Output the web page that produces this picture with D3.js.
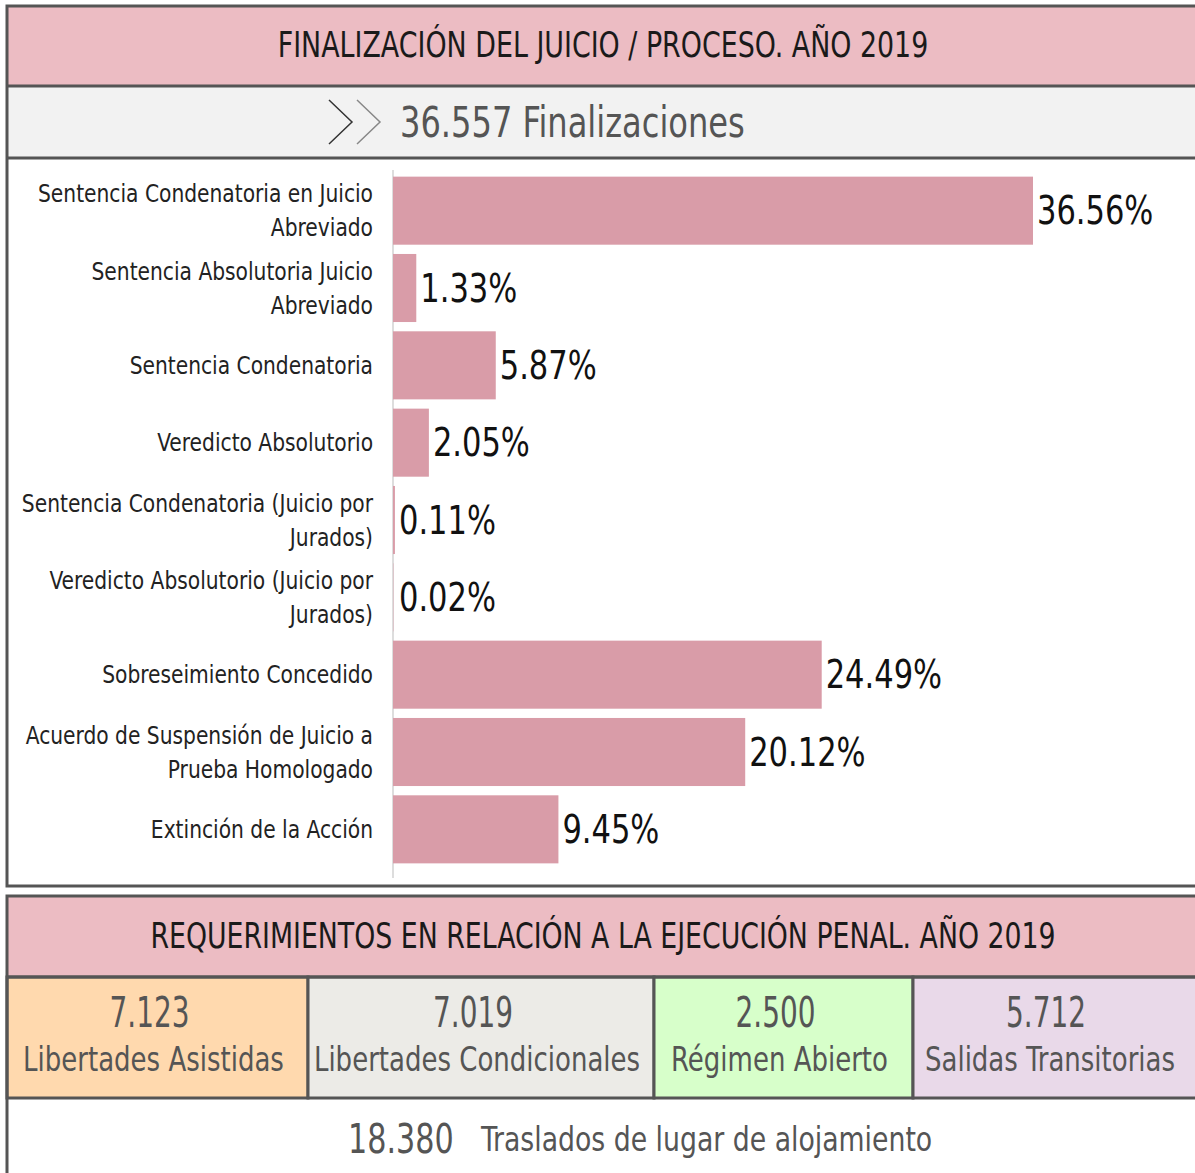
<!DOCTYPE html>
<html>
<head>
<meta charset="utf-8">
<script src="https://cdn.jsdelivr.net/npm/d3@7"></script>
<style>
body{margin:0;background:#fff;}
text{font-family:"DejaVu Sans Condensed","DejaVu Sans",sans-serif;}
</style>
</head>
<body>
<div id="chart"></div>
<script>
// data
var title1="FINALIZACIÓN DEL JUICIO / PROCESO. AÑO 2019";
var totalFin=36557;
var totalLabel="Finalizaciones";
var categories=[
	["Sentencia Condenatoria en Juicio","Abreviado"],
	["Sentencia Absolutoria Juicio","Abreviado"],
	["Sentencia Condenatoria"],
	["Veredicto Absolutorio"],
	["Sentencia Condenatoria (Juicio por","Jurados)"],
	["Veredicto Absolutorio (Juicio por","Jurados)"],
	["Sobreseimiento Concedido"],
	["Acuerdo de Suspensión de Juicio a","Prueba Homologado"],
	["Extinción de la Acción"]
];
var values=[36.56,1.33,5.87,2.05,0.11,0.02,24.49,20.12,9.45];
var title2="REQUERIMIENTOS EN RELACIÓN A LA EJECUCIÓN PENAL. AÑO 2019";
var execLabels=["Libertades Asistidas","Libertades Condicionales","Régimen Abierto","Salidas Transitorias"];
var execValues=[7123,7019,2500,5712];
var execColors=["#ffd9ae","#ecebe7","#d7ffca","#e9d9e9"];
var trasladosValue=18380;
var trasladosLabel="Traslados de lugar de alojamiento";

var W=1195,H=1173;
var es=d3.formatLocale({decimal:",",thousands:".",grouping:[3],currency:["$",""]});
var fmtN=es.format(",d");
var border="#555";
var svg=d3.select("#chart").append("svg").attr("width",W).attr("height",H);

// text squeezed horizontally to look like the narrow font of the original
function addText(x,y,str,size,sx,anchor,fill){
	return svg.append("g").attr("transform","translate("+x+","+y+") scale("+sx+",1)")
		.append("text").attr("dy","0.35em").attr("text-anchor",anchor||"start")
		.attr("font-size",size).attr("fill",fill).text(str);
}

// ---- top box
var L=7,R=1200;
svg.append("rect").attr("x",L).attr("y",6).attr("width",R-L).attr("height",80).attr("fill","#ecbcc3");
svg.append("rect").attr("x",L).attr("y",86).attr("width",R-L).attr("height",72).attr("fill","#f2f2f2");
svg.append("rect").attr("x",L).attr("y",158).attr("width",R-L).attr("height",728).attr("fill","#fff");
svg.append("rect").attr("x",L).attr("y",6).attr("width",R-L).attr("height",880).attr("fill","none").attr("stroke",border).attr("stroke-width",3);
[86,158].forEach(function(y){
	svg.append("line").attr("x1",L).attr("x2",R).attr("y1",y).attr("y2",y).attr("stroke",border).attr("stroke-width",3);
});
addText(603,45,title1,35,0.854,"middle","#1a1a1a");
// chevrons
var chev=svg.append("g").attr("fill","none").attr("stroke-width",1.5);
chev.append("path").attr("d","M329,100 L352,122 L329,144").attr("stroke","#333");
chev.append("path").attr("d","M357,100 L380,122 L357,144").attr("stroke","#888");
addText(400,122,fmtN(totalFin)+" "+totalLabel,42,0.85,"start","#555");

// bars
var x0=393;
var x=d3.scaleLinear().domain([0,36.56]).range([x0,1033]);
var y=d3.scaleBand().domain(d3.range(values.length)).range([172,868]).paddingInner(0.12).paddingOuter(0.06);
svg.append("line").attr("x1",x0).attr("x2",x0).attr("y1",170).attr("y2",878).attr("stroke","#ddd").attr("stroke-width",2);
svg.selectAll("rect.bar").data(values).enter().append("rect").attr("class","bar")
	.attr("x",x0).attr("y",function(d,i){return y(i);})
	.attr("width",function(d){return x(d)-x0;}).attr("height",y.bandwidth())
	.attr("fill","#d99ca8");
values.forEach(function(d,i){
	addText(Math.max(x(d),x0+2)+4,y(i)+y.bandwidth()/2,d.toFixed(2)+"%",39,0.87,"start","#111");
});
categories.forEach(function(lines,i){
	var cy=y(i)+y.bandwidth()/2;
	lines.forEach(function(s,j){
		addText(373,cy+(j-(lines.length-1)/2)*34,s,25,0.9,"end","#222");
	});
});

// ---- bottom box
var T2=896;
svg.append("rect").attr("x",L).attr("y",T2).attr("width",R-L).attr("height",81).attr("fill","#ecbcc3");
addText(603,936,title2,35,0.85,"middle","#1a1a1a");
var cellX=[L,308,654,913,R];
svg.selectAll("rect.cell").data(execValues).enter().append("rect").attr("class","cell")
	.attr("x",function(d,i){return cellX[i];}).attr("y",977)
	.attr("width",function(d,i){return cellX[i+1]-cellX[i];}).attr("height",121)
	.attr("fill",function(d,i){return execColors[i];})
	.attr("stroke",border).attr("stroke-width",3);
execValues.forEach(function(d,i){
	var cx=(cellX[i]+Math.min(cellX[i+1],W))/2;
	addText(cx-8,1012,fmtN(d),42,0.74,"middle","#555");
	addText(cx-4,1059,execLabels[i],34,0.85,"middle","#555");
});
svg.append("rect").attr("x",L).attr("y",T2).attr("width",R-L).attr("height",300).attr("fill","none").attr("stroke",border).attr("stroke-width",3);
svg.append("line").attr("x1",L).attr("x2",R).attr("y1",977).attr("y2",977).attr("stroke",border).attr("stroke-width",3);
addText(348,1139,fmtN(trasladosValue),40,0.84,"start","#555");
addText(481,1139,trasladosLabel,34,0.874,"start","#555");
</script>
</body>
</html>
